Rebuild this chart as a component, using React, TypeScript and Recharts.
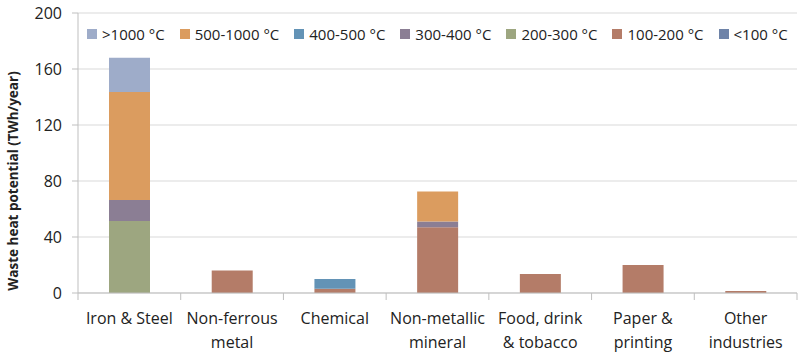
import React from 'react';
import { BarChart, Bar, XAxis, YAxis, CartesianGrid } from 'recharts';

const categories = ['Iron & Steel', 'Non-ferrous metal', 'Chemical', 'Non-metallic mineral', 'Food, drink & tobacco', 'Paper & printing', 'Other industries'];
const categoryLines = [['Iron & Steel'], ['Non-ferrous', 'metal'], ['Chemical'], ['Non-metallic', 'mineral'], ['Food, drink', '& tobacco'], ['Paper &', 'printing'], ['Other', 'industries']];

const below100 = [0, 0, 0, 0, 0, 0, 0];
const t100to200 = [0, 16, 3, 47, 13.5, 20, 1.5];
const t200to300 = [51.5, 0, 0, 0, 0, 0, 0];
const t300to400 = [15, 0, 0, 4, 0, 0, 0];
const t400to500 = [0, 0, 7, 0, 0, 0, 0];
const t500to1000 = [77, 0, 0, 21.5, 0, 0, 0];
const above1000 = [24.5, 0, 0, 0, 0, 0, 0];

const yTicks = [0, 40, 80, 120, 160, 200];

const series = [
  { key: 'lt100', name: '<100 °C', values: below100, color: '#6E83A8' },
  { key: 't100', name: '100-200 °C', values: t100to200, color: '#B47C68' },
  { key: 't200', name: '200-300 °C', values: t200to300, color: '#9DA680' },
  { key: 't300', name: '300-400 °C', values: t300to400, color: '#8B7E94' },
  { key: 't400', name: '400-500 °C', values: t400to500, color: '#6393B6' },
  { key: 't500', name: '500-1000 °C', values: t500to1000, color: '#DB9C5F' },
  { key: 't1000', name: '>1000 °C', values: above1000, color: '#9EACC9' },
];

const data = categories.map((c, i) => {
  const row: any = { category: c, idx: i };
  series.forEach((s) => (row[s.key] = s.values[i]));
  return row;
});

const font = 'Open Sans, sans-serif';

function CategoryTick(props: any) {
  const { x, payload, index, width, visibleTicksCount } = props;
  const band = width && visibleTicksCount ? width / visibleTicksCount : 102.7;
  const lines = categoryLines[index] || [payload.value];
  const axisY = 293;
  return (
    <g>
      <line x1={x - band / 2} x2={x - band / 2} y1={axisY} y2={axisY + 7} stroke="#BFBFBF" />
      {index === categories.length - 1 && (
        <line x1={x + band / 2} x2={x + band / 2} y1={axisY} y2={axisY + 7} stroke="#BFBFBF" />
      )}
      {lines.map((l: string, k: number) => (
        <text key={k} x={x} y={axisY + 31 + k * 24} textAnchor="middle" fill="#222" fontSize={16} fontFamily={font}>
          {l}
        </text>
      ))}
    </g>
  );
}

export default function App() {
  const legendItems = [...series].reverse();
  return (
    <div style={{ position: 'absolute', left: 0, top: 0, width: 803, height: 355, background: '#fff' }}>
      <BarChart width={803} height={355} data={data} margin={{ top: 13, right: 6, bottom: 0, left: 0 }}>
        <CartesianGrid vertical={false} stroke="#D9D9D9" />
        <XAxis dataKey="category" height={62} tickLine={false} axisLine={{ stroke: '#BFBFBF' }} tick={<CategoryTick />} interval={0} tickSize={0} />
        <YAxis
          width={78}
          domain={[0, 200]}
          ticks={yTicks}
          tickSize={6}
          tickMargin={10}
          axisLine={{ stroke: '#BFBFBF' }}
          tickLine={{ stroke: '#BFBFBF' }}
          tick={{ fill: '#222', fontSize: 16, fontFamily: font }}
          label={{
            value: 'Waste heat potential (TWh/year)',
            angle: -90,
            position: 'insideLeft',
            dx: 8,
            dy: 28,
            style: { fill: '#222', fontSize: 13.5, fontWeight: 'bold', fontFamily: font, textAnchor: 'middle' },
          }}
        />
        {series.map((s) => (
          <Bar key={s.key} dataKey={s.key} name={s.name} stackId="a" fill={s.color} barSize={41} isAnimationActive={false} />
        ))}
      </BarChart>
      <div
        style={{
          position: 'absolute',
          left: 87,
          top: 24,
          display: 'flex',
          gap: 15,
          fontFamily: font,
          fontSize: 15,
          color: '#222',
          whiteSpace: 'nowrap',
        }}
      >
        {legendItems.map((s) => (
          <div key={s.key} style={{ display: 'flex', alignItems: 'center', gap: 5 }}>
            <span style={{ width: 10, height: 10, background: s.color, display: 'inline-block' }} />
            <span>{s.name}</span>
          </div>
        ))}
      </div>
    </div>
  );
}
